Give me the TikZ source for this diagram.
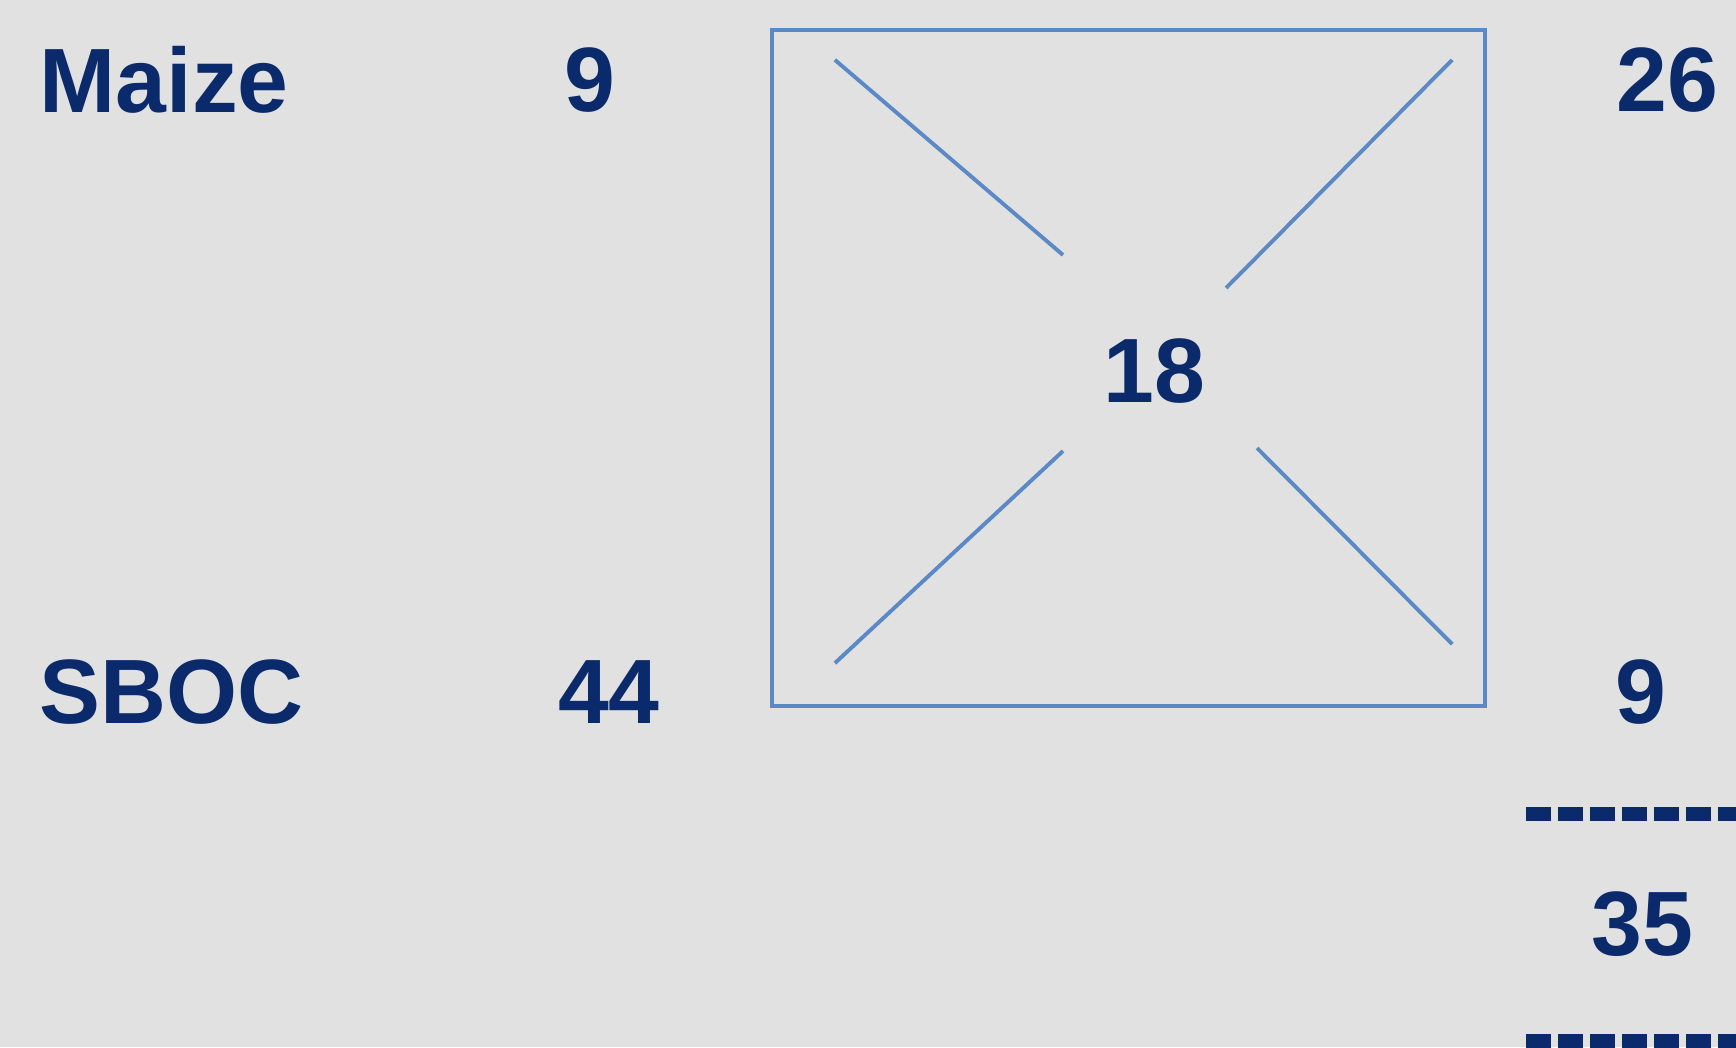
\documentclass[tikz,border=0pt]{standalone}
\usepackage{fontspec}
\setmainfont{Liberation Sans}
\usetikzlibrary{calc}
\definecolor{psqbg}{HTML}{E1E1E1}
\definecolor{psqnavy}{HTML}{0B2A6C}
\definecolor{psqblue}{HTML}{5A89C6}

\begin{document}
\begin{tikzpicture}[
        every node/.style={font=\fontsize{26}{30}\selectfont\bfseries, text=psqnavy, inner sep=0pt},
        lbl/.style={anchor=west},
        num/.style={anchor=center},
        sq/.style={
          draw=psqblue, line width=1.2pt,
          minimum width=7.13cm, minimum height=6.76cm,
        },
        ln/.style={draw=psqblue, line width=1.1pt},
        dl/.style={draw=psqnavy, line width=3.8pt, dash pattern=on 0.25cm off 0.07cm},
      ]
      \fill[psqbg] (0,0) rectangle (17.36,10.47);
      \useasboundingbox (0,0) rectangle (17.36,10.47);
      \node[lbl] (maize) at (0.39,9.67) {Maize};
      \node[num] (mz)    at (5.90,9.67) {9};
      \node[lbl] (sboc)  at (0.39,3.55) {SBOC};
      \node[num] (sb)    at (6.09,3.55) {44};
      \node[sq]  (sq)    at (11.285,6.79) {};
      \node[num] (mid)   at (11.54,6.76) {18};
      \node[lbl] (pmz)   at (16.16,9.67) {26};
      \node[num] (psb)   at (16.41,3.55) {9};
      \node[num] (tot)   at (16.42,1.23) {35};
      \draw[ln] ($(sq.north west)+(0.65,-0.32)$) -- ($(sq.center)+(-0.655,1.13)$);
      \draw[ln] ($(sq.north east)+(-0.35,-0.32)$) -- ($(sq.center)+(0.975,0.80)$);
      \draw[ln] ($(sq.south west)+(0.65,0.45)$) -- ($(sq.center)+(-0.655,-0.83)$);
      \draw[ln] ($(sq.center)+(1.285,-0.80)$) -- ($(sq.south east)+(-0.35,0.64)$);
      \coordinate (r1) at (15.26,2.33);
      \coordinate (r2) at (15.26,0.06);
      \draw[dl] (r1) -- (r1 -| pmz.east) -- ++(0.3,0);
      \draw[dl] (r2) -- (r2 -| pmz.east) -- ++(0.3,0);
    \end{tikzpicture}
\end{document}
